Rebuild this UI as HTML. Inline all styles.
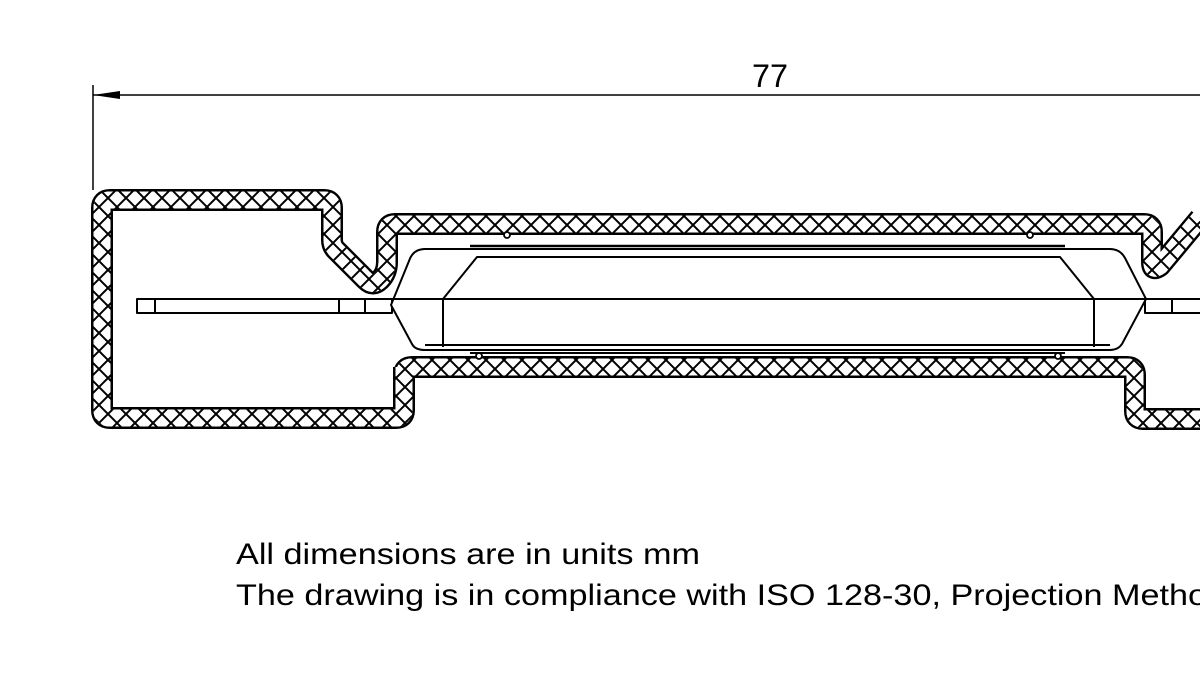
<!DOCTYPE html>
<html><head><meta charset="utf-8"><style>
html,body{margin:0;padding:0;background:#fff;}
svg{display:block;}
text{font-family:"Liberation Sans",Arial,sans-serif;fill:#000;}
</style></head><body>
<svg width="1200" height="675" viewBox="0 0 1200 675" xmlns="http://www.w3.org/2000/svg">
<defs>
<pattern id="h" patternUnits="userSpaceOnUse" width="18" height="18">
<rect width="18" height="18" fill="#fff"/>
<path d="M0 0L18 18M18 0L0 18" stroke="#000" stroke-width="2"/>
</pattern>
</defs>
<line x1="93" y1="85" x2="93" y2="190" stroke="#000" stroke-width="1.5"/>
<line x1="93" y1="95" x2="1200" y2="95" stroke="#000" stroke-width="1.5"/>
<path d="M93 95L120 91L120 99Z" fill="#000"/>
<text x="770" y="87" font-size="32" text-anchor="middle" textLength="36" lengthAdjust="spacingAndGlyphs">77</text>

<g id="w1" fill="none" stroke-linejoin="round">
<path fill="none" d="M404 367 L404 410 Q404 418 396 418 L110 418 Q102 418 102 410 L102 208 Q102 200 110 200 L324 200 Q332 200 332 208 L332 240 Q332 246 336 250 L366 280 Q373 287 380 280 Q387 273 387 262 L387 232 Q387 224 395 224 L1144 224 Q1152 224 1152 232 L1152 262 Q1152 272 1160 266 L1200 218"/>
<path fill="none" d="M1200 419 L1143 419 Q1135 419 1135 411 L1135 375 Q1135 367 1127 367 L412 367 Q404 367 404 375 L404 380"/>
</g>
<use href="#w1" stroke="#000" stroke-width="22"/>
<use href="#w1" stroke="#fff" stroke-width="17"/>
<use href="#w1" stroke="url(#h)" stroke-width="17"/>

<g fill="#fff" stroke="#000" stroke-width="1.8">
<circle cx="507" cy="235" r="3"/><circle cx="1030" cy="235" r="3"/>
<circle cx="479" cy="356" r="3"/><circle cx="1058" cy="356" r="3"/>
</g>

<g fill="none" stroke="#000" stroke-width="2" stroke-linejoin="round">
<rect x="137" y="299" width="255" height="14" fill="#fff"/>
<line x1="155" y1="299" x2="155" y2="313"/>
<line x1="339" y1="299" x2="339" y2="313"/>
<line x1="365" y1="299" x2="365" y2="313"/>
<rect x="1145" y="299" width="60" height="14" fill="#fff"/>
<line x1="1172" y1="299" x2="1172" y2="313"/>
<path d="M391 305 L409 261 Q413 249 425 249 L1110 249 Q1120 249 1125 258 L1146 299 L1122 344 Q1118 350 1110 350 L425 350 Q415 350 412 344 Z" fill="#fff"/>
<line x1="391" y1="299" x2="1146" y2="299"/>
<line x1="443" y1="299" x2="443" y2="347"/>
<line x1="1094" y1="299" x2="1094" y2="347"/>
<path d="M443 299 L477 257 L1060 257 L1094 299"/>
<line x1="470" y1="246" x2="1065" y2="246" stroke-width="2.6"/>
<line x1="425" y1="345" x2="1110" y2="345"/>
<line x1="470" y1="353" x2="1065" y2="353"/>
</g>

<text x="236" y="564" font-size="30" textLength="464" lengthAdjust="spacingAndGlyphs">All dimensions are in units mm</text>
<text x="236" y="605" font-size="30" textLength="990" lengthAdjust="spacingAndGlyphs">The drawing is in compliance with ISO 128-30, Projection Method</text>
</svg>
</body></html>
